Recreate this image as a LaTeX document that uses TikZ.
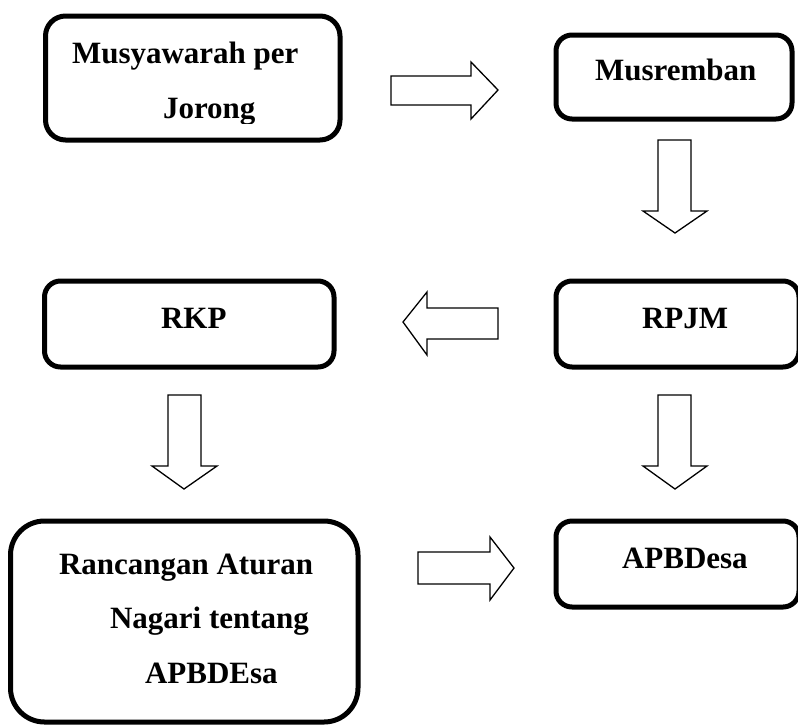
\documentclass[tikz,border=0pt]{standalone}
\usepackage{fontspec}
\setmainfont{Liberation Serif}
\begin{document}
\begin{tikzpicture}[x=1pt,y=-1pt,
  box/.style={draw=black,line width=5pt,rectangle,rounded corners=#1,inner sep=0pt,outer sep=0pt},
  box/.default=16pt,
  lbl/.style={anchor=base west,inner sep=0pt,outer sep=0pt,font=\fontsize{31}{37}\selectfont\bfseries},
  blockarrow/.style={draw=black,line width=1.3pt,line join=miter,fill=white}]
\useasboundingbox (0,0) rectangle (798,724);
% boxes
\node[box=20pt,minimum width=294.5pt,minimum height=124pt] (musy) at (192.75,78) {};
\node[box,minimum width=236pt,minimum height=84pt] (musr) at (674,77) {};
\node[box,minimum width=289.5pt,minimum height=86pt] (rkp) at (189.25,324) {};
\node[box,minimum width=243pt,minimum height=86pt] (rpjm) at (677.5,324) {};
\node[box=34pt,minimum width=347.5pt,minimum height=201pt] (ranc) at (184.25,621.5) {};
\node[box,minimum width=243pt,minimum height=86pt] (apbd) at (677.5,564) {};
% texts
\begin{scope}
\clip (40,10) rectangle (345,123);
\node[lbl] (t1a) at (72,63) {Musyawarah per};
\node[lbl] (t1b) at (163,118) {Jorong};
\end{scope}
\node[lbl] (t2) at (595,80) {Musremban};
\node[lbl] (t3) at (161,328) {RKP};
\node[lbl] (t4) at (642,328) {RPJM};
\node[lbl] (t5a) at (59,574) {Rancangan Aturan};
\node[lbl] (t5b) at (110,628) {Nagari tentang};
\node[lbl] (t5c) at (145,683) {APBDEsa};
\node[lbl] (t6) at (622,568) {APBDesa};
% block arrows
\draw[blockarrow] (391,76) -- (471,76) -- (471,62) -- (498,90) -- (471,119) -- (471,105) -- (391,105) -- cycle;
\draw[blockarrow] (658,140) -- (691,140) -- (691,211) -- (707,211) -- (675,233) -- (643,211) -- (658,211) -- cycle;
\draw[blockarrow] (498,308) -- (427,308) -- (427,292) -- (403,322) -- (427,355) -- (427,339) -- (498,339) -- cycle;
\draw[blockarrow] (168,395) -- (201,395) -- (201,466) -- (217,466) -- (184,489) -- (152,466) -- (168,466) -- cycle;
\draw[blockarrow] (658,395) -- (691,395) -- (691,466) -- (707,466) -- (675,489) -- (643,466) -- (658,466) -- cycle;
\draw[blockarrow] (418,552) -- (490,552) -- (490,537) -- (514,568) -- (490,600) -- (490,584) -- (418,584) -- cycle;
\end{tikzpicture}
\end{document}
